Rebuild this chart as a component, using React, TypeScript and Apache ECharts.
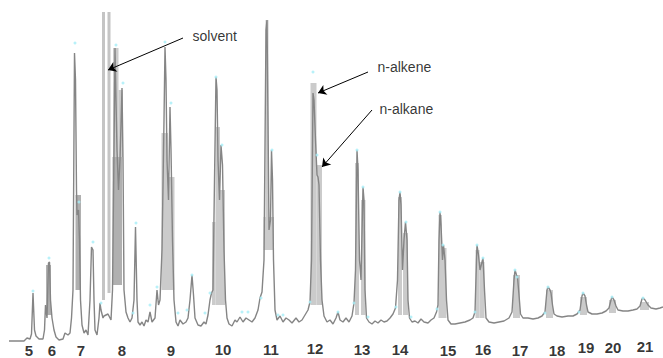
import React, { useEffect, useRef } from "react";
import * as echarts from "echarts";

// Chromatogram trace: [scan, intensity]
const trace: number[][] = [
  [9, -1], [24, -1], [27, 2], [30, 1], [31.5, 6], [33, 47], [34.5, 10], [36, 4], [39, 1], [43, 1],
  [44.5, 10], [45.5, 35], [47, 22], [48.5, 77], [49.5, 78], [50.5, 40], [52, 22], [54, 10], [56, 3], [59, 0],
  [63, 1], [65, 7], [68, 5], [70, 7], [71.5, 22], [73, 50], [74.5, 287], [75.5, 260], [76.5, 150], [77, 125],
  [78.5, 130], [79.5, 100], [80.5, 40], [82, 15], [84, 7], [86, 10], [88, 5], [90, 40], [91.5, 93], [93, 90],
  [94, 40], [95, 10], [97, 5], [99, 22], [100, 37], [101, 30], [103, 22], [104, 24], [108, 26], [111, 20],
  [112.5, 50], [114, 190], [115, 292], [116, 240], [117, 190], [118.5, 150], [120, 180], [122, 252], [123, 180], [124, 50],
  [126, 28], [128, 22], [130, 18], [132, 22], [134, 40], [135.5, 113], [137, 40], [138, 18], [140, 15], [142, 18],
  [144, 14], [146, 20], [148, 18], [150, 28], [152, 18], [155, 22], [157, 50], [158.5, 35], [160, 40], [162, 90],
  [164, 220], [165, 293], [166, 260], [167, 180], [168.5, 140], [170, 233], [171, 190], [172.5, 100], [174, 40], [176, 18],
  [178, 14], [180, 20], [183, 16], [186, 18], [188, 22], [190, 40], [192, 65], [193.5, 45], [195, 22], [198, 15],
  [201, 14], [204, 18], [206, 16], [208, 25], [210, 40], [211.5, 47], [213, 50], [214.5, 160], [216, 263], [217, 250],
  [218, 180], [219.5, 140], [221, 195], [222.5, 175], [224, 90], [225.5, 40], [227, 22], [229, 16], [232, 14], [235, 20],
  [237, 18], [240, 23], [243, 18], [246, 22], [249, 20], [252, 18], [255, 22], [258, 30], [260, 42], [262, 48],
  [264, 80], [266, 310], [267, 320], [268, 220], [269, 110], [270.5, 120], [271.5, 190], [272.5, 160], [273.5, 80], [275, 30],
  [277, 20], [280, 24], [283, 18], [286, 22], [289, 20], [292, 17], [296, 22], [299, 18], [302, 20], [305, 25],
  [308, 30], [310, 38], [311.5, 80], [313, 247], [314, 240], [315.5, 200], [317, 165], [318, 163], [319, 155], [320.5, 80],
  [322, 40], [324, 24], [327, 18], [330, 20], [333, 16], [336, 22], [338, 28], [340, 20], [343, 18], [346, 22],
  [349, 18], [352, 24], [354, 37], [355.5, 70], [357, 190], [358, 170], [359.5, 80], [361, 60], [363, 153], [364, 140],
  [365, 50], [366.5, 22], [369, 18], [372, 16], [375, 19], [378, 17], [381, 20], [384, 18], [387, 19], [390, 22],
  [393, 26], [395.5, 32], [397.5, 60], [399, 140], [400, 148], [401, 135], [402.5, 70], [404, 100], [405.5, 118], [407, 100],
  [408, 40], [409.5, 22], [412, 18], [415, 19], [418, 17], [421, 21], [424, 18], [428, 17], [431, 20], [434, 22],
  [436.5, 28], [438, 35], [439, 100], [440, 128], [441, 115], [442.5, 80], [443.5, 95], [445, 80], [446.5, 40], [448, 20],
  [451, 16], [455, 16], [460, 17], [465, 18], [470, 20], [473, 22], [475, 28], [476.5, 80], [477, 95], [478.5, 85],
  [480, 70], [483, 82], [484.5, 50], [486, 22], [489, 18], [494, 17], [499, 18], [504, 19], [509, 22], [512, 28],
  [514, 60], [515, 70], [516.5, 65], [517.5, 63], [519, 45], [520.5, 26], [523, 22], [528, 22], [533, 21], [538, 22],
  [542, 24], [545, 28], [547, 50], [548, 53], [550, 50], [551, 47], [552.5, 35], [554, 26], [557, 24], [562, 23],
  [568, 24], [573, 24], [577, 26], [580, 30], [582, 44], [583, 47], [585, 44], [586.5, 35], [588, 28], [592, 26],
  [597, 26], [602, 27], [606, 29], [609, 32], [611, 40], [612, 43], [614, 40], [616, 34], [618, 30], [623, 29],
  [628, 29], [633, 30], [637, 31], [640, 34], [642, 41], [643, 42], [645, 40], [648, 35], [651, 32], [656, 31],
  [660, 32], [663, 33],
];

// Unresolved peak bodies: [scanStart, scanEnd, top, bottom]
const bodiesLight: number[][] = [
  [113, 118.5, 292, 183], [118.5, 123, 250, 183],
  [161.5, 168, 207, 50], [168, 174.5, 163, 50],
  [212, 215.5, 118, 35], [215.5, 220, 213, 35], [220, 225, 150, 35],
  [265.5, 268.5, 320, 123], [263.5, 274, 123, 90],
  [310.5, 316.5, 257, 35], [316.5, 322, 175, 35],
  [355, 359, 177, 25], [361, 365.5, 140, 25],
  [398, 402, 143, 25], [403, 408, 107, 25],
  [438.5, 442, 125, 22], [442, 446.5, 92, 22],
  [475.5, 479.5, 90, 22], [479.5, 484.5, 78, 22],
  [513, 520, 65, 22], [546, 553, 50, 22], [580, 587, 43, 25],
  [609, 616, 40, 27], [640, 649, 38, 30],
];
const bodiesMid: number[][] = [
  [112.5, 122, 183, 55], [75.5, 81, 145, 50], [46, 51, 75, 25],
];
const solvent: number[][] = [
  [102, 105, 328, 40], [107.5, 110.5, 328, 47],
];

// Detected peak apex markers
const apexMarks: number[][] = [
  [33, 49], [49, 82], [75, 297], [79, 138], [93, 98], [101, 37], [116, 295], [123, 257], [136, 117],
  [157, 53], [150, 35], [133, 27], [165, 298], [171, 237], [192, 65], [187, 30], [178, 27], [210, 47],
  [216, 263], [222, 195], [205, 27], [242, 28], [248, 28], [261, 42], [272, 190], [278, 25], [283, 25],
  [310, 38], [313, 268], [317, 185], [338, 28], [354, 37], [357, 190], [363, 153], [368, 23], [396, 33],
  [400, 148], [406, 118], [411, 23], [437, 31], [440, 128], [443, 95], [477, 95], [483, 82], [475, 28],
  [515, 70], [517, 63], [548, 53], [545, 27], [583, 47], [579, 28], [612, 43], [643, 42],
];

// Carbon number labels
const carbonNumbers = ["5", "6", "7", "8", "9", "10", "11", "12", "13", "14", "15", "16", "17", "18", "19", "20", "21"];
const carbonScans = [29, 52, 81, 122, 171, 223, 271, 315, 362, 400, 448, 483, 520, 557, 586, 613, 645];
const carbonLabelLevel = [-10, -10, -10, -10, -10, -9, -9, -8, -9, -9, -10, -9, -10, -10, -7, -7, -6];

// Annotations
const annotationNames = ["solvent", "n-alkene", "n-alkane"];
const annotationPos = [[192, 304], [377, 273], [379, 231]];
const arrowFrom = [[183, 302], [368, 268], [372, 230]];
const arrowTo = [[108, 270], [318, 247], [322, 173]];

const font = 'Arial, "Liberation Sans", sans-serif';

function rectSeries(data: number[][], color: string, z: number) {
  return {
    type: "custom",
    clip: true,
    z,
    silent: true,
    data,
    renderItem: (_p: any, api: any) => {
      const a = api.coord([api.value(0), api.value(2)]);
      const b = api.coord([api.value(1), api.value(3)]);
      return {
        type: "rect",
        shape: { x: a[0], y: a[1], width: b[0] - a[0], height: b[1] - a[1] },
        style: { fill: color },
      };
    },
  };
}

export default function App() {
  const ref = useRef<HTMLDivElement>(null);
  useEffect(() => {
    if (!ref.current) return;
    const chart = echarts.init(ref.current, null, { renderer: "svg" });
    chart.setOption({
      animation: false,
      backgroundColor: "#ffffff",
      grid: { left: 0, right: 0, top: 12, bottom: 0 },
      xAxis: { type: "value", min: 0, max: 663, show: false },
      yAxis: { type: "value", min: -18, max: 328, show: false },
      series: [
        rectSeries(solvent, "#c4c4c4", 1),
        rectSeries(bodiesLight, "#cbcbcb", 1),
        rectSeries(bodiesMid, "#b0b0b0", 2),
        {
          type: "line",
          data: trace,
          showSymbol: false,
          z: 3,
          silent: true,
          lineStyle: { color: "#858585", width: 1.4 },
        },
        {
          type: "scatter",
          data: apexMarks,
          symbolSize: 3,
          z: 4,
          silent: true,
          itemStyle: { color: "#a6eef8" },
        },
        {
          type: "scatter",
          z: 5,
          silent: true,
          symbolSize: 1,
          itemStyle: { color: "rgba(0,0,0,0)" },
          data: carbonNumbers.map((n, i) => ({ name: n, value: [carbonScans[i], carbonLabelLevel[i]] })),
          label: {
            show: true,
            position: "inside",
            formatter: "{b}",
            color: "#000",
            fontFamily: font,
            fontWeight: "bold",
            fontSize: 15,
          },
        },
        {
          type: "scatter",
          z: 5,
          silent: true,
          symbolSize: 1,
          itemStyle: { color: "rgba(0,0,0,0)" },
          data: annotationNames.map((n, i) => ({ name: n, value: annotationPos[i] })),
          label: {
            show: true,
            position: "right",
            distance: 0,
            formatter: "{b}",
            color: "#000",
            fontFamily: font,
            fontSize: 14,
          },
          markLine: {
            silent: true,
            symbol: ["none", "arrow"],
            symbolSize: 8,
            label: { show: false },
            lineStyle: { color: "#000", width: 1, type: "solid" },
            emphasis: { disabled: true },
            data: arrowFrom.map((f, i) => [{ coord: f }, { coord: arrowTo[i] }]),
          },
        },
      ],
    });
    return () => chart.dispose();
  }, []);
  return <div ref={ref} style={{ position: "fixed", left: 0, top: 0, width: 663, height: 358 }} />;
}
